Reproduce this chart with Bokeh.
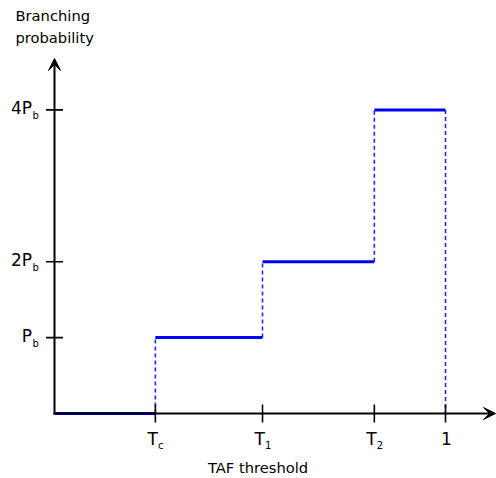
from math import pi
from bokeh.plotting import figure
from bokeh.models import Range1d, Arrow, VeeHead, ColumnDataSource
from bokeh.core.properties import value
from bokeh.embed import file_html
from bokeh.resources import INLINE

# ---- data ----
thresholds = [0.0, 0.258, 0.532, 0.818, 1.0]
probabilities = [0, 1, 2, 4]
x_tick_values = [0.258, 0.532, 0.818, 1.0]
x_tick_main = ["T", "T", "T", "1"]
x_tick_sub = ["c", "1", "2", ""]
y_tick_values = [1, 2, 4]
y_tick_main = ["P", "2P", "4P"]
y_tick_sub = ["b", "b", "b"]
x_title = "TAF threshold"
y_title = ["Branching", "probability"]

# ---- layout ----
W, H = 496, 478
X0PX, XSCALE = 54, 391.0      # pixel of x=0, pixels per unit
Y0PX, YSCALE = 413, 75.9      # pixel (from top) of y=0, pixels per Pb
FONT = value("DejaVu Sans")
DY = -6                       # baseline correction of the svg text

p = figure(width=W, height=H, output_backend="svg", toolbar_location=None,
           x_range=Range1d(-X0PX / XSCALE, (W - X0PX) / XSCALE),
           y_range=Range1d(-(H - Y0PX) / YSCALE, Y0PX / YSCALE),
           x_axis_location=None, y_axis_location=None, min_border=0)
for g in p.grid:
    g.visible = False
p.outline_line_color = None
p.background_fill_color = "white"
p.border_fill_color = "white"

# axes with arrows
p.add_layout(Arrow(end=VeeHead(size=12, fill_color="black", line_color="black", line_width=1),
                   x_start=-1 / XSCALE, y_start=0, x_end=(495 - X0PX) / XSCALE, y_end=0,
                   line_width=2, line_color="black"))
p.add_layout(Arrow(end=VeeHead(size=12, fill_color="black", line_color="black", line_width=1),
                   x_start=0, y_start=-1 / YSCALE, x_end=0, y_end=(Y0PX - 58) / YSCALE,
                   line_width=2, line_color="black"))

# dashed verticals
p.segment(x0=thresholds[1:], x1=thresholds[1:],
          y0=probabilities, y1=probabilities[1:] + [0],
          line_color="blue", line_width=1.6, line_alpha=0.85, line_dash="4 3")

# blue steps
p.segment(x0=thresholds[:-1], x1=thresholds[1:], y0=probabilities, y1=probabilities,
          line_color="blue", line_width=3)

# ticks
p.scatter(x=x_tick_values, y=[0] * len(x_tick_values), marker="dash", size=18,
          angle=pi / 2, line_color="black", line_width=1.6)
p.scatter(x=[0] * len(y_tick_values), y=y_tick_values, marker="dash", size=17,
          line_color="black", line_width=1.6)

# y tick labels
p.text(x=[0] * len(y_tick_values), y=y_tick_values, text=y_tick_main,
       text_align="right", text_baseline="alphabetic", x_offset=-22.5, y_offset=4.5 + DY,
       text_font=FONT, text_font_size="17px", text_color="black")
p.text(x=[0] * len(y_tick_values), y=y_tick_values, text=y_tick_sub,
       text_align="left", text_baseline="alphabetic", x_offset=-22, y_offset=12 + DY,
       text_font=FONT, text_font_size="10px", text_color="black")

# x tick labels
xsrc = ColumnDataSource(dict(
    x=x_tick_values, y=[0] * len(x_tick_values), main=x_tick_main, sub=x_tick_sub,
    dx=[-2.8 if s else 1 for s in x_tick_sub]))
p.text(x="x", y="y", text="main", source=xsrc, x_offset="dx", y_offset=31 + DY,
       text_align="center", text_baseline="alphabetic",
       text_font=FONT, text_font_size="17px", text_color="black")
p.text(x="x", y="y", text="sub", source=xsrc, x_offset=2.5, y_offset=37.5 + DY,
       text_align="left", text_baseline="alphabetic",
       text_font=FONT, text_font_size="10px", text_color="black")

# titles
p.text(x=[(257.5 - X0PX) / XSCALE], y=[0], text=[x_title], y_offset=60 + DY,
       text_align="center", text_baseline="alphabetic",
       text_font=FONT, text_font_size="14.7px", text_color="black")
p.text(x=[(15 - X0PX) / XSCALE] * 2, y=[(Y0PX - 21) / YSCALE, (Y0PX - 43) / YSCALE],
       text=y_title, text_align="left", text_baseline="alphabetic", y_offset=DY,
       text_font=FONT, text_font_size="14.7px", text_color="black")

open("out.html", "w").write(file_html(p, INLINE))
